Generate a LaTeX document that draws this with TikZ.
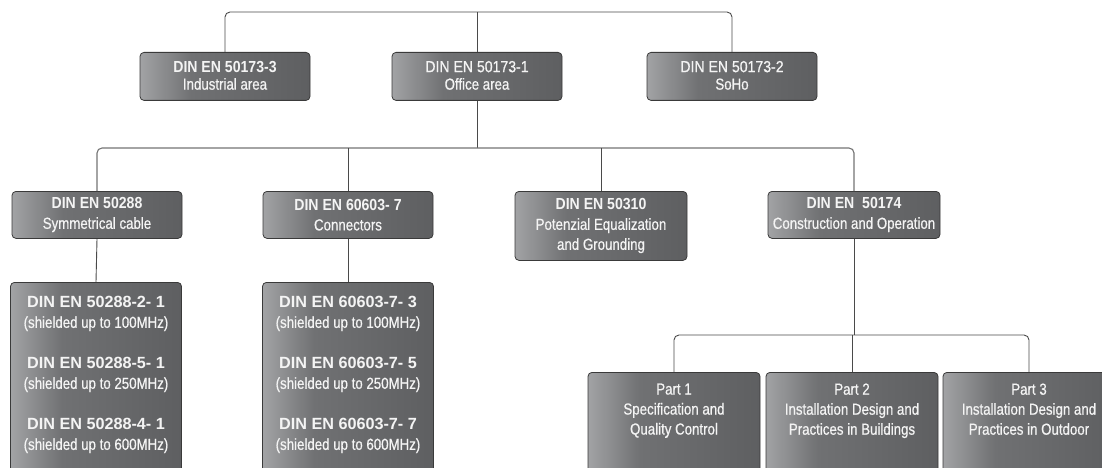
\documentclass[tikz,border=0pt]{standalone}
\usepackage{fontspec}
\setmainfont{Liberation Sans}[FakeStretch=0.83, UprightFeatures={FakeBold=0.6}]
\newfontfamily\topf{Liberation Sans}[FakeStretch=0.88, UprightFeatures={FakeBold=0.6}]
\newfontfamily\midf{Liberation Sans}[FakeStretch=0.88]
\newfontfamily\lowf{Liberation Sans}
\usetikzlibrary{positioning,calc}
\definecolor{cA}{HTML}{A2A3A5}
\definecolor{cB}{HTML}{707173}
\definecolor{cC}{HTML}{5E5F61}
\definecolor{bord}{HTML}{3A3A3A}
\definecolor{lineC}{HTML}{4A4A4A}
\definecolor{txt}{HTML}{F4F4F4}
\pgfdeclarehorizontalshading{boxshade}{100bp}{color(0bp)=(cA); color(25bp)=(cA); color(40bp)=(cB); color(75bp)=(cC); color(100bp)=(cC)}
\newcommand\toptitle[1]{{\topf\fontsize{16}{17.5}\selectfont #1}}
\newcommand\midtitle[1]{{\midf\bfseries\fontsize{16}{20}\selectfont #1}}
\newcommand\lowtitle[1]{{\lowf\bfseries\fontsize{16.2}{20}\selectfont #1}}
\tikzset{
  box/.style={draw=bord, line width=0.8pt, rounded corners=4pt, shading=boxshade, rectangle, anchor=north, minimum width=170pt, inner sep=0pt},
  lbl/.style={text=txt, align=center, font=\fontsize{16}{17.5}\selectfont},
  lbltwo/.style={text=txt, align=center, font=\fontsize{16}{20}\selectfont},
  conn/.style={draw=lineC, line width=0.9pt, rounded corners=5pt},
}
\begin{document}
\begin{tikzpicture}[x=1pt,y=-1pt]
\useasboundingbox (0,0) rectangle (1102,468);
\clip (0,0) rectangle (1102,468);
% top row
\node[box, minimum height=48pt] (T3) at (225,52) {};
\node[box, minimum height=48pt] (T1) at (477,52) {};
\node[box, minimum height=48pt] (T2) at (732,52) {};
\node[lbl] (T3t) at ($(T3.center)+(0,-1)$) {\toptitle{\bfseries DIN EN 50173-3}\\Industrial area};
\node[lbl] (T1t) at ($(T1.center)+(0,-1)$) {\toptitle{DIN EN 50173-1}\\Office area};
\node[lbl] (T2t) at ($(T2.center)+(0,-1)$) {\toptitle{DIN EN 50173-2}\\SoHo};
% second row
\node[box, minimum height=47pt] (A) at (97,191) {};
\node[box, minimum height=47pt] (B) at (348,191) {};
\node[box, minimum height=69pt, minimum width=172pt] (C) at (601,191) {};
\node[box, minimum height=47pt, minimum width=172pt] (D) at (854,191) {};
\node[lbltwo] (At) at (A.center) {\midtitle{DIN EN 50288}\\Symmetrical cable};
\node[lbltwo] (Bt) at (B.center) {\midtitle{DIN EN 60603- 7}\\Connectors};
\node[lbltwo] (Ct) at (C.center) {\midtitle{DIN EN 50310}\\Potenzial Equalization\\and Grounding};
\node[lbltwo] (Dt) at (D.center) {\midtitle{DIN EN\ \ 50174}\\Construction and Operation};
% third row (left)
\node[box, minimum height=230pt, minimum width=171pt] (A2) at (96,282) {};
\node[box, minimum height=230pt, minimum width=171pt] (B2) at (348,282) {};
\node[lbltwo, anchor=north] (A2t) at ($(A2.north)+(0,11)$) {\lowtitle{DIN EN 50288-2- 1}\\(shielded up to 100MHz)\\[21pt]\lowtitle{DIN EN 50288-5- 1}\\(shielded up to 250MHz)\\[21pt]\lowtitle{DIN EN 50288-4- 1}\\(shielded up to 600MHz)};
\node[lbltwo, anchor=north] (B2t) at ($(B2.north)+(0,11)$) {\lowtitle{DIN EN 60603-7- 3}\\(shielded up to 100MHz)\\[21pt]\lowtitle{DIN EN 60603-7- 5}\\(shielded up to 250MHz)\\[21pt]\lowtitle{DIN EN 60603-7- 7}\\(shielded up to 600MHz)};
% parts
\node[box, minimum height=150pt, minimum width=172pt] (P1) at (674,372) {};
\node[box, minimum height=150pt, minimum width=172pt] (P2) at (852,372) {};
\node[box, minimum height=150pt, minimum width=172pt] (P3) at (1029,372) {};
\node[lbltwo, anchor=north] (P1t) at ($(P1.north)+(0,8)$) {Part 1\\Specification and\\Quality Control};
\node[lbltwo, anchor=north] (P2t) at ($(P2.north)+(0,8)$) {Part 2\\Installation Design and\\Practices in Buildings};
\node[lbltwo, anchor=north] (P3t) at ($(P3.north)+(0,8)$) {Part 3\\Installation Design and\\Practices in Outdoor};
% connectors
\coordinate (topbar) at (477,12);
\coordinate (midbar) at (477,148);
\coordinate (lowbar) at (852,335);
\draw[conn] (T3.north) |- (topbar) -| (T2.north);
\draw[conn] (T1.north) -- (T1.north |- topbar);
\draw[conn] (T1.south) -- (T1.south |- midbar);
\draw[conn, draw=gray!90!black, line width=1.1pt] (A.north) |- (midbar) -| (D.north);
\draw[conn] (B.north) -- (B.north |- midbar);
\draw[conn] (C.north) -- (C.north |- midbar);
\draw[conn] (A.south) -- (A2.north);
\draw[conn] (B.south) -- (B2.north);
\draw[conn] (D.south) -- (D.south |- lowbar);
\draw[conn] (P1.north) |- (lowbar) -| (P3.north);
\draw[conn] (P2.north) -- (P2.north |- lowbar);
\end{tikzpicture}
\end{document}
